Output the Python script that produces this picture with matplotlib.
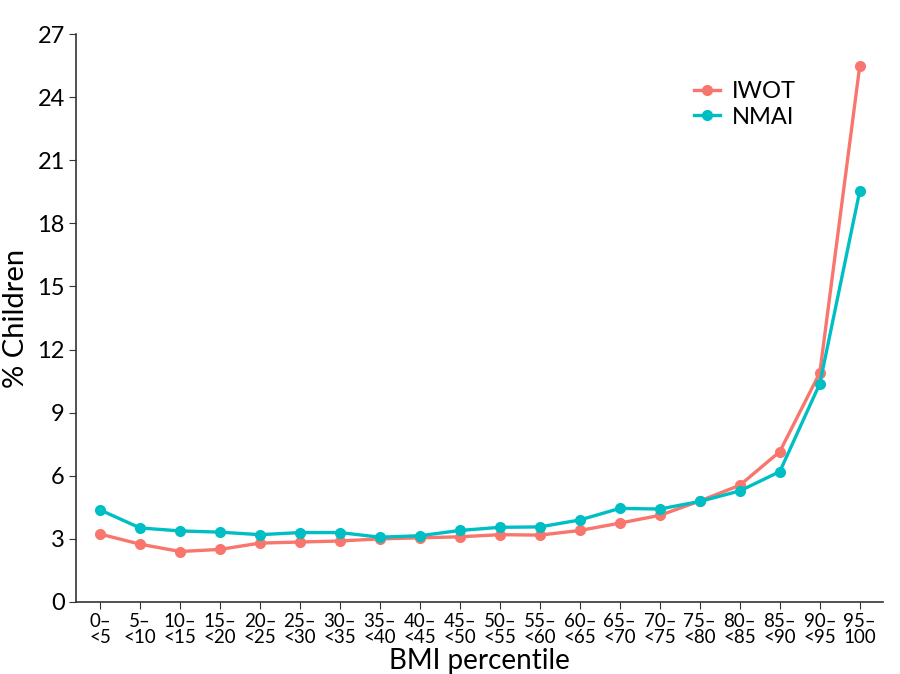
import numpy as np
import matplotlib.pyplot as plt

plt.rcParams['font.family'] = ['Lato', 'DejaVu Sans']

categories = ['0–\n<5', '5–\n<10', '10–\n<15', '15–\n<20', '20–\n<25', '25–\n<30',
              '30–\n<35', '35–\n<40', '40–\n<45', '45–\n<50', '50–\n<55', '55–\n<60',
              '60–\n<65', '65–\n<70', '70–\n<75', '75–\n<80', '80–\n<85', '85–\n<90',
              '90–\n<95', '95–\n100']
iwot = [3.23, 2.75, 2.4, 2.5, 2.8, 2.85, 2.9, 3.0, 3.05, 3.1, 3.2, 3.18, 3.4, 3.75,
        4.12, 4.8, 5.55, 7.15, 10.9, 25.5]
nmai = [4.38, 3.52, 3.38, 3.32, 3.2, 3.3, 3.3, 3.08, 3.15, 3.4, 3.55, 3.57, 3.9, 4.45,
        4.42, 4.78, 5.28, 6.2, 10.38, 19.55]
yticks = [0, 3, 6, 9, 12, 15, 18, 21, 24, 27]

fig = plt.figure(figsize=(9, 6.74), dpi=100)
ax = fig.add_axes([76 / 900, 1 - 602 / 674, (883 - 76) / 900, (602 - 34) / 674])

x = np.arange(len(categories))
ax.plot(x, iwot, color='#F8766D', lw=2.4, marker='o', ms=7, label='IWOT')
ax.plot(x, nmai, color='#00BFC4', lw=2.4, marker='o', ms=7, label='NMAI')

ax.set_xlim(-0.6, 19.58)
ax.set_ylim(0, 27)
ax.set_yticks(yticks)
ax.set_xticks(x)
ax.set_xticklabels(categories, fontsize=13.5, linespacing=0.95)
ax.tick_params(axis='y', labelsize=17, pad=3)
ax.tick_params(axis='x', pad=3)
ax.tick_params(length=5, color='#333333')
ax.spines['top'].set_visible(False)
ax.spines['right'].set_visible(False)
for s in ['left', 'bottom']:
    ax.spines[s].set_color('#333333')
    ax.spines[s].set_linewidth(1.2)

ax.set_xlabel('BMI percentile', fontsize=20, labelpad=1)
ax.set_ylabel('% Children', fontsize=21, labelpad=6)

ax.legend(loc='upper left', bbox_to_anchor=(0.74, 0.955), frameon=False, fontsize=17,
          handlelength=1.1, handletextpad=0.5, labelspacing=0.2)

fig.savefig('out.png', dpi=100)
